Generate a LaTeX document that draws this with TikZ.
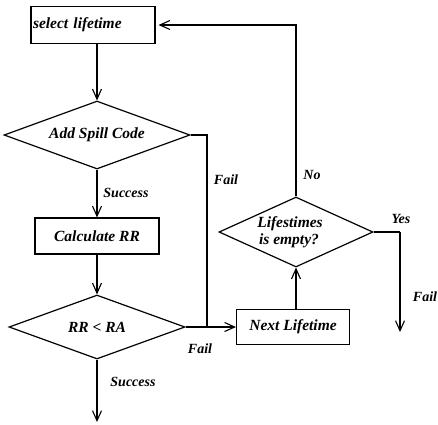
\documentclass[tikz,border=0pt]{standalone}
\usepackage{fontspec}
\setmainfont{Liberation Serif}
\usetikzlibrary{shapes.geometric,arrows.meta}
\tikzset{
  flow/.style={line width=1.1pt},
  arr/.style={flow,-{Straight Barb[length=10pt,width=9pt,line width=1.1pt]}},
  procbox/.style={draw,line width=1.1pt,rectangle,inner sep=0pt,font=\fontsize{15.5}{17}\selectfont\bfseries\itshape},
  decision/.style={draw,line width=1.2pt,diamond,inner sep=0pt,font=\fontsize{15.5}{19}\selectfont\bfseries\itshape,align=center},
  lbl/.style={inner sep=0pt,font=\fontsize{14}{16}\selectfont\bfseries\itshape}
}
\begin{document}
\begin{tikzpicture}[x=1pt,y=-1pt]
\useasboundingbox (0,0) rectangle (438,424);
% nodes
\node[procbox,minimum width=124pt,minimum height=37pt,text width=120pt,align=left] (sel) at (93,25) {select lifetime};
\node[decision,minimum width=186pt,minimum height=68pt,shape aspect=2.74] (spill) at (97,135) {Add Spill Code};
\node[procbox,minimum width=124pt,minimum height=36pt] (calc) at (97,236) {Calculate RR};
\node[decision,minimum width=176pt,minimum height=64pt,shape aspect=2.75] (rr) at (97,327) {RR < RA};
\node[procbox,minimum width=113pt,minimum height=35pt] (next) at (293,327) {Next Lifetime};
\node[decision,minimum width=154pt,minimum height=70pt,shape aspect=2.2] (empty) at (296,232) {\hspace*{-12pt}Lifestimes\\[-2pt]\hspace*{-14pt}is empty?};
\coordinate (spillturn) at (207,135);
\coordinate (yesturn) at (400,232);
\coordinate (yesend) at (400,332);
\coordinate (succend) at (97,422);
% connectors
\draw[arr] (sel.south -| spill.north) -- (spill.north);
\draw[arr] (spill.south) -- (calc.north);
\draw[arr] (calc.south) -- (rr.north);
\draw[arr] (rr.south) -- (succend);
\draw[arr] (rr.east) -- (next.west);
\draw[flow] (spill.east) -- (spillturn) -- (spillturn |- rr.east);
\draw[arr] (next.north -| empty.south) -- (empty.south);
\draw[arr,shorten >=3pt] (empty.north) |- (sel.east);
\draw[flow] (empty.east) -- (yesturn);
\draw[arr] (yesturn) -- (yesend);
% labels
\node[lbl] (l1) at (126,193) {Success};
\node[lbl] (l2) at (226,180) {Fail};
\node[lbl] (l3) at (133,382) {Success};
\node[lbl] (l4) at (200,349) {Fail};
\node[lbl] (l5) at (312,175) {No};
\node[lbl] (l6) at (401,219) {Yes};
\node[lbl] (l7) at (425,297) {Fail};
\end{tikzpicture}
\end{document}
